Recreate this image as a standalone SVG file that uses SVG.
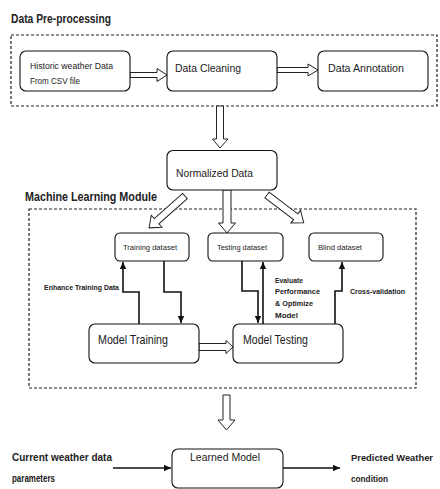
<svg xmlns="http://www.w3.org/2000/svg" width="440" height="489" viewBox="0 0 440 489">
<defs>
<style>
.t{font-family:"Liberation Sans",Arial,sans-serif;fill:#222;}
.b{font-weight:bold;}
.box{fill:#fff;stroke:#111;stroke-width:1.1;}
.dash{fill:none;stroke:#222;stroke-width:1.2;stroke-dasharray:3,2;}
.hol{fill:#fff;stroke:#222;stroke-width:1;stroke-linejoin:miter;}
.ln{fill:none;stroke:#111;stroke-width:1.6;}
</style>
<marker id="ah" markerUnits="userSpaceOnUse" markerWidth="8" markerHeight="8" refX="7" refY="4" orient="auto">
<path d="M0,0.8 L7,4 L0,7.2 Z" fill="#111"/>
</marker>
</defs>
<rect width="440" height="489" fill="#fff"/>

<text class="t b" x="11" y="23" font-size="12" textLength="100" lengthAdjust="spacingAndGlyphs">Data Pre-processing</text>
<rect class="dash" x="11" y="35" width="426" height="71"/>
<text class="t b" x="25" y="201" font-size="12" textLength="132" lengthAdjust="spacingAndGlyphs">Machine Learning Module</text>
<rect class="dash" x="29" y="209" width="387" height="179"/>

<g id="connectors">
<polygon class="hol" points="130,72.5 157,72.5 157,68.5 167,75 157,81.5 157,77.5 130,77.5"/>
<polygon class="hol" points="277,67.5 308,67.5 308,64 318,70 308,76 308,72.5 277,72.5"/>
<polygon class="hol" points="216.5,106 223.5,106 223.5,139 228,139 220,148 212.5,139 216.5,139"/>
<g transform="translate(185,196) rotate(138.4)"><polygon class="hol" points="0,-3.5 38,-3.5 38,-8 48,0 38,8 38,3.5 0,3.5"/></g>
<polygon class="hol" points="223,190 231,190 231,223 235.5,223 227,233 218.5,223 223,223"/>
<g transform="translate(267,195) rotate(37.1)"><polygon class="hol" points="0,-3.5 36,-3.5 36,-8 46,0 36,8 36,3.5 0,3.5"/></g>
<polygon class="hol" points="199,343.5 226,343.5 226,340.5 233,347 226,353.5 226,350.5 199,350.5"/>
<polygon class="hol" points="223,395 230,395 230,420 235,420 226.5,430 218,420 223,420"/>
<path class="ln" d="M139,324 V292 H123 V262" marker-end="url(#ah)"/>
<path class="ln" d="M164,261 V292 H181 V323" marker-end="url(#ah)"/>
<path class="ln" d="M242,261 V291 H258 V323" marker-end="url(#ah)"/>
<path class="ln" d="M263,324 V262" marker-end="url(#ah)"/>
<path class="ln" d="M335,324 V291 H342 V262" marker-end="url(#ah)"/>
<path class="ln" d="M113,468 H171" marker-end="url(#ah)"/>
<path class="ln" d="M283,468 H340" marker-end="url(#ah)"/>
</g>

<g id="historic">
<rect class="box" x="20" y="51" width="110" height="40" rx="6"/>
<text class="t" x="30" y="69" font-size="8.5" textLength="83" lengthAdjust="spacingAndGlyphs">Historic weather Data</text>
<text class="t" x="30" y="84" font-size="8.5" textLength="50" lengthAdjust="spacingAndGlyphs">From CSV file</text>
</g>
<g id="cleaning">
<rect class="box" x="167" y="51" width="110" height="40" rx="6"/>
<text class="t" x="175" y="72" font-size="11" textLength="66" lengthAdjust="spacingAndGlyphs">Data Cleaning</text>
</g>
<g id="annotation">
<rect class="box" x="318" y="51" width="110" height="40" rx="6"/>
<text class="t" x="328" y="72" font-size="11" textLength="76" lengthAdjust="spacingAndGlyphs">Data Annotation</text>
</g>
<g id="normalized">
<rect class="box" x="167" y="150.5" width="110" height="39.5" rx="6"/>
<text class="t" x="176" y="177" font-size="10" textLength="77" lengthAdjust="spacingAndGlyphs">Normalized Data</text>
</g>
<g id="training-dataset">
<rect class="box" x="115" y="233" width="74" height="28" rx="5"/>
<text class="t" x="123" y="249.5" font-size="7.5" textLength="54" lengthAdjust="spacingAndGlyphs">Training dataset</text>
</g>
<g id="testing-dataset">
<rect class="box" x="208" y="233" width="75" height="28" rx="5"/>
<text class="t" x="217" y="249.5" font-size="7.5" textLength="50" lengthAdjust="spacingAndGlyphs">Testing dataset</text>
</g>
<g id="blind-dataset">
<rect class="box" x="309" y="233" width="74" height="28" rx="5"/>
<text class="t" x="318" y="249.5" font-size="7.5" textLength="44" lengthAdjust="spacingAndGlyphs">Blind dataset</text>
</g>
<g id="model-training">
<rect class="box" x="89" y="324" width="110" height="39" rx="6"/>
<text class="t" x="98" y="343.5" font-size="13" textLength="70" lengthAdjust="spacingAndGlyphs">Model Training</text>
</g>
<g id="model-testing">
<rect class="box" x="233" y="324" width="110" height="39" rx="6"/>
<text class="t" x="243" y="343.5" font-size="13" textLength="65" lengthAdjust="spacingAndGlyphs">Model Testing</text>
</g>
<g id="learned-model">
<rect class="box" x="172" y="449" width="111" height="39" rx="6"/>
<text class="t" x="190" y="461" font-size="11" textLength="70" lengthAdjust="spacingAndGlyphs">Learned Model</text>
</g>

<g id="labels">
<text class="t b" x="44" y="290" font-size="7" textLength="75" lengthAdjust="spacingAndGlyphs">Enhance Training Data</text>
<text class="t b" x="275" y="282.7" font-size="7.5" textLength="28" lengthAdjust="spacingAndGlyphs">Evaluate</text>
<text class="t b" x="275" y="294.4" font-size="7.5" textLength="45" lengthAdjust="spacingAndGlyphs">Performance</text>
<text class="t b" x="275" y="306" font-size="7.5" textLength="38" lengthAdjust="spacingAndGlyphs">&amp; Optimize</text>
<text class="t b" x="275" y="318.4" font-size="7.5" textLength="23" lengthAdjust="spacingAndGlyphs">Model</text>
<text class="t b" x="350" y="293.5" font-size="7.5" textLength="55" lengthAdjust="spacingAndGlyphs">Cross-validation</text>
<text class="t b" x="12" y="461" font-size="10.5" textLength="100" lengthAdjust="spacingAndGlyphs">Current weather data</text>
<text class="t b" x="12" y="482" font-size="10.5" textLength="43" lengthAdjust="spacingAndGlyphs">parameters</text>
<text class="t b" x="351" y="461" font-size="9.5" textLength="82" lengthAdjust="spacingAndGlyphs">Predicted Weather</text>
<text class="t b" x="351" y="482" font-size="9.5" textLength="37" lengthAdjust="spacingAndGlyphs">condition</text>
</g>
</svg>
